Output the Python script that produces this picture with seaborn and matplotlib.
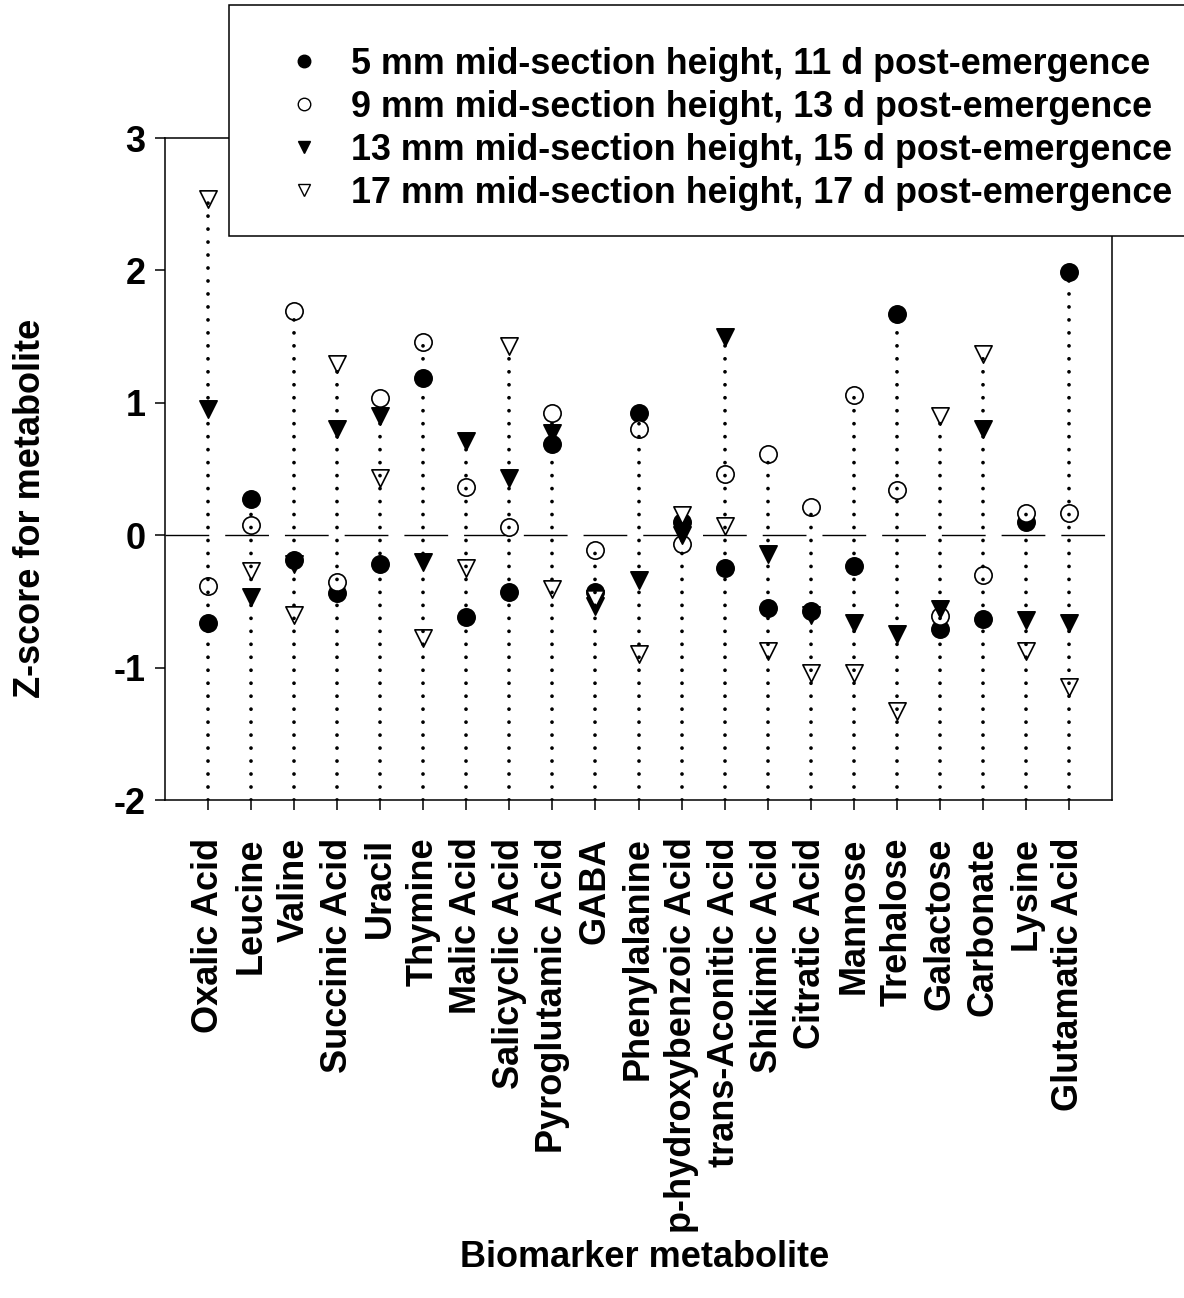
import numpy as np
import pandas as pd
import seaborn as sns
import matplotlib.pyplot as plt
from matplotlib.lines import Line2D
from matplotlib.patches import Rectangle

# metabolites along the x axis
metabolites = ["Oxalic Acid", "Leucine", "Valine", "Succinic Acid", "Uracil", "Thymine",
               "Malic Acid", "Salicyclic Acid", "Pyroglutamic Acid", "GABA", "Phenylalanine",
               "p-hydroxybenzoic Acid", "trans-Aconitic Acid", "Shikimic Acid", "Citratic Acid",
               "Mannose", "Trehalose", "Galactose", "Carbonate", "Lysine", "Glutamatic Acid"]

# z-scores, one list per growth stage
z_5mm = [-0.66, 0.27, -0.19, -0.44, -0.22, 1.19, -0.615, -0.43, 0.69, -0.43, 0.925,
         0.10, -0.25, -0.55, -0.57, -0.23, 1.67, -0.71, -0.635, 0.10, 1.99]
z_9mm = [-0.38, 0.075, 1.69, -0.35, 1.04, 1.46, 0.365, 0.06, 0.925, -0.11, 0.80,
         -0.07, 0.465, 0.615, 0.21, 1.06, 0.345, -0.61, -0.30, 0.165, 0.165]
z_13mm = [0.95, -0.47, -0.22, 0.80, 0.90, -0.20, 0.71, 0.43, 0.77, -0.535, -0.335,
          0.0, 1.50, -0.14, -0.60, -0.665, -0.745, -0.555, 0.80, -0.64, -0.66]
z_17mm = [2.54, -0.27, -0.605, 1.29, 0.43, -0.78, -0.245, 1.43, -0.41, -0.48, -0.90,
          0.15, 0.07, -0.875, -1.04, -1.04, -1.33, 0.90, 1.365, -0.875, -1.15]

series_labels = ["5 mm mid-section height, 11 d post-emergence",
                 "9 mm mid-section height, 13 d post-emergence",
                 "13 mm mid-section height, 15 d post-emergence",
                 "17 mm mid-section height, 17 d post-emergence"]

rows = []
for lab, vals in zip(series_labels, [z_5mm, z_9mm, z_13mm, z_17mm]):
    for m, v in zip(metabolites, vals):
        rows.append({"metabolite": m, "zscore": v, "series": lab})
df = pd.DataFrame(rows)

sns.set_style("ticks", {"axes.edgecolor": "black", "xtick.color": "black",
                        "ytick.color": "black", "text.color": "black",
                        "axes.labelcolor": "black"})
plt.rcParams['font.family'] = ['Liberation Sans', 'DejaVu Sans']
plt.rcParams['font.weight'] = 'bold'
plt.rcParams['axes.labelweight'] = 'bold'
plt.rcParams['axes.unicode_minus'] = False

fig = plt.figure(figsize=(11.84, 12.98), dpi=100)
ax = fig.add_axes([165 / 1184, 1 - 800 / 1298, (1112 - 165) / 1184, (800 - 138) / 1298])

styles = [("o", "black"), ("o", "white"), ("v", "black"), ("v", "white")]
for lab, (mk, fc) in zip(series_labels, styles):
    sns.scatterplot(data=df[df.series == lab], x="metabolite", y="zscore",
                    marker=mk, color=fc, edgecolor="black", linewidth=1.2,
                    s=155, ax=ax, legend=False, zorder=3)

# dotted drop lines from the highest point down to the axis
tops = df.groupby("metabolite", sort=False)["zscore"].max()
dots = ax.vlines(list(tops.index), -2, tops.values, colors="black",
                 linewidth=2.7, linestyles=[(0, (0.01, 3.45))], zorder=4)
dots.set_capstyle("round")

ax.axhline(0, color="black", lw=1.0, linestyle=(0, (31.5, 11.5)), zorder=2)

ax.set_xlim(-1, len(metabolites))
ax.set_ylim(-2, 3)
ax.set_yticks([-2, -1, 0, 1, 2, 3])
for sp in ax.spines.values():
    sp.set_linewidth(1.1)
    sp.set_visible(True)
ax.tick_params(axis="both", length=7, width=1.1, labelsize=26)
ax.tick_params(axis="x", rotation=90, pad=20)
ax.tick_params(axis="y", pad=7)

ax.set_xlabel("Biomarker metabolite", fontsize=26, fontweight="bold")
ax.set_ylabel("Z-score for metabolite", fontsize=26, fontweight="bold")
ax.xaxis.set_label_coords(0.506, -0.664)
ax.yaxis.set_label_coords(-0.1235, 0.44)

# legend box sits partly outside the axes and runs off the right edge
fig.add_artist(Rectangle((229 / 1184, 1 - 236 / 1298), 1.0, 231 / 1298,
                         transform=fig.transFigure, facecolor="white",
                         edgecolor="black", linewidth=1.1, zorder=4))
handles = [Line2D([], [], marker=mk, linestyle="none", markerfacecolor=fc,
                  markeredgecolor="black", markeredgewidth=1.0, markersize=9)
           for mk, fc in styles]
leg = fig.legend(handles, series_labels, loc="upper left",
                 bbox_to_anchor=(265 / 1184, 1 - 47 / 1298),
                 bbox_transform=fig.transFigure, fontsize=25.8, frameon=False,
                 borderpad=0, labelspacing=0.22, handlelength=2.2,
                 handletextpad=0.2, borderaxespad=0)
leg.set_zorder(5)

fig.savefig("out.png", dpi=100)
